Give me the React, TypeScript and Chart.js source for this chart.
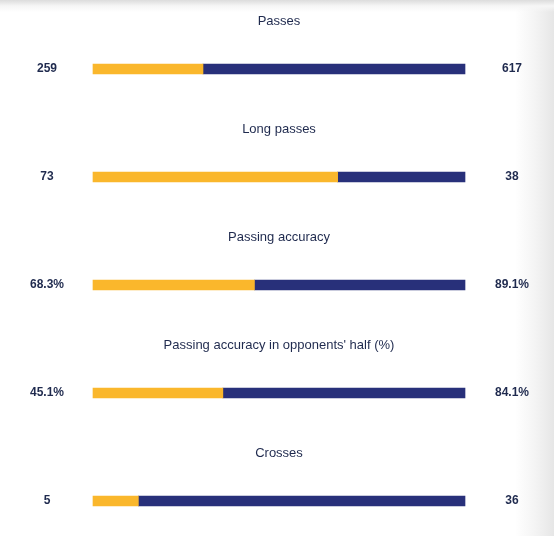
import React, { useEffect, useRef } from "react";
import { Chart, registerables } from "chart.js";

Chart.register(...registerables);

const categories = [
  "Passes",
  "Long passes",
  "Passing accuracy",
  "Passing accuracy in opponents' half (%)",
  "Crosses",
];
const leftValues = [259, 73, 68.3, 45.1, 5];
const rightValues = [617, 38, 89.1, 84.1, 36];
const leftLabels = ["259", "73", "68.3%", "45.1%", "5"];
const rightLabels = ["617", "38", "89.1%", "84.1%", "36"];

const YELLOW = "#FAB72C";
const NAVY = "#28307A";
const TEXT = "#1F2A4E";
const FONT = "'Liberation Sans', Arial, sans-serif";

export default function App() {
  const ref = useRef<HTMLCanvasElement | null>(null);

  useEffect(() => {
    document.body.style.margin = "0";
    const canvas = ref.current;
    if (!canvas) return;

    const leftShare = leftValues.map((v, i) => (v / (v + rightValues[i])) * 100);
    const rightShare = rightValues.map((v, i) => (v / (leftValues[i] + v)) * 100);

    const textPlugin = {
      id: "statText",
      afterDatasetsDraw(chart: any) {
        const { ctx, chartArea, scales } = chart;
        const ys = scales.y;
        const cx = (chartArea.left + chartArea.right) / 2;
        ctx.save();
        ctx.fillStyle = TEXT;
        ctx.textBaseline = "middle";
        ctx.textAlign = "center";
        categories.forEach((c, i) => {
          const y = ys.getPixelForValue(i);
          ctx.font = `13px ${FONT}`;
          ctx.fillText(c, cx, y - 48);
          ctx.font = `bold 12px ${FONT}`;
          ctx.fillText(leftLabels[i], chartArea.left - 46, y);
          ctx.fillText(rightLabels[i], chartArea.right + 47, y);
        });
        ctx.restore();
      },
    };

    const chart = new Chart(canvas, {
      type: "bar",
      data: {
        labels: categories,
        datasets: [
          { data: leftShare, backgroundColor: YELLOW, barThickness: 10, clip: false as any },
          { data: rightShare, backgroundColor: NAVY, barThickness: 10, clip: false as any },
        ],
      },
      options: {
        indexAxis: "y",
        animation: false,
        responsive: false,
        events: [],
        layout: { padding: { top: 69, bottom: 35, left: 93, right: 89 } },
        plugins: { legend: { display: false }, tooltip: { enabled: false } },
        scales: {
          x: { stacked: true, min: 0, max: 100, display: false },
          y: { stacked: true, offset: false, display: false },
        },
      },
      plugins: [textPlugin],
    });
    return () => chart.destroy();
  }, []);

  return (
    <div
      style={{
        width: 554,
        height: 536,
        position: "relative",
        background:
          "linear-gradient(to bottom, #dcdcdc 0px, #f6f6f6 6px, rgba(255,255,255,0) 12px), linear-gradient(to right, #ffffff 515px, #f4f4f4 535px, #e6e6e6 554px)",
      }}
    >
      <canvas ref={ref} width={554} height={536} style={{ display: "block" }} />
    </div>
  );
}
